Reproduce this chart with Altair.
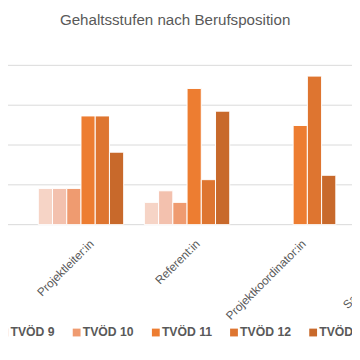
import altair as alt
import pandas as pd

categories = ["Projektleiter:in", "Referent:in", "Projektkoordinator:in", "Sachbearbeiter:in"]
series = ["TVÖD 8", "TVÖD 9", "TVÖD 10", "TVÖD 11", "TVÖD 12", "TVÖD 13"]
colors = ["#F6D4C6", "#F3C1AE", "#EF9B70", "#ED7D31", "#DE7530", "#C8692B"]

projektleiter = [9.1, 9.1, 9.1, 27.3, 27.3, 18.2]
referent = [5.6, 8.5, 5.6, 34.2, 11.3, 28.5]
projektkoordinator = [0, 0, 0, 24.9, 37.3, 12.4]

grid_values = [0, 10, 20, 30, 40]

rows = []
for cat, vals in zip(categories[:3], [projektleiter, referent, projektkoordinator]):
    for s, v in zip(series, vals):
        if v > 0:
            rows.append({"Position": cat, "Stufe": s, "Anteil": v})
df = pd.DataFrame(rows)
grid_df = pd.DataFrame({"Anteil": grid_values})

grey = "#595959"
yscale = alt.Scale(domain=[0, 40])

grid = (
    alt.Chart(grid_df)
    .mark_rule(color="#D9D9D9", strokeWidth=1)
    .encode(y=alt.Y("Anteil:Q", scale=yscale, axis=None))
)

bars = (
    alt.Chart(df)
    .mark_bar(stroke="white", strokeWidth=1)
    .encode(
        x=alt.X(
            "Position:N",
            sort=categories,
            scale=alt.Scale(domain=categories, range=[31, 444], paddingInner=0.195, paddingOuter=0),
            axis=alt.Axis(
                title=None,
                labelAngle=315,
                labelAlign="right",
                labelBaseline="middle",
                labelOffset=11,
                labelPadding=17,
                labelFont="Liberation Sans",
                labelFontSize=12,
                labelColor=grey,
                labelLimit=300,
                labelOverlap=False,
                ticks=False,
                domain=False,
                grid=False,
            ),
        ),
        xOffset=alt.XOffset(
            "Stufe:N",
            sort=series,
            scale=alt.Scale(domain=series, paddingInner=0, paddingOuter=0),
        ),
        y=alt.Y("Anteil:Q", scale=yscale, axis=None),
        color=alt.Color(
            "Stufe:N",
            scale=alt.Scale(domain=series, range=colors),
            legend=alt.Legend(
                title=None,
                orient="none",
                direction="horizontal",
                columns=6,
                legendX=-84,
                legendY=267,
                padding=0,
                symbolType="square",
                symbolSize=64,
                symbolStrokeWidth=0,
                labelFont="Liberation Sans",
                labelFontSize=12.5,
                labelFontWeight="bold",
                labelColor=grey,
                labelOffset=0,
                columnPadding=16,
            ),
        ),
    )
)

chart = (
    alt.layer(grid, bars)
    .properties(
        width=352,
        height=163,
        padding={"left": 0, "top": 54.7, "right": 0, "bottom": 126.3},
        autosize=alt.AutoSizeParams(type="none"),
        title=alt.TitleParams(
            "Gehaltsstufen nach Berufsposition",
            font="Liberation Sans",
            fontSize=15.5,
            fontWeight="normal",
            color=grey,
            anchor="middle",
            baseline="alphabetic",
            offset=25,
            dx=-5,
        ),
    )
    .configure_view(stroke=None)
)

chart.save("out.html", embed_options={"renderer": "svg", "actions": False})
